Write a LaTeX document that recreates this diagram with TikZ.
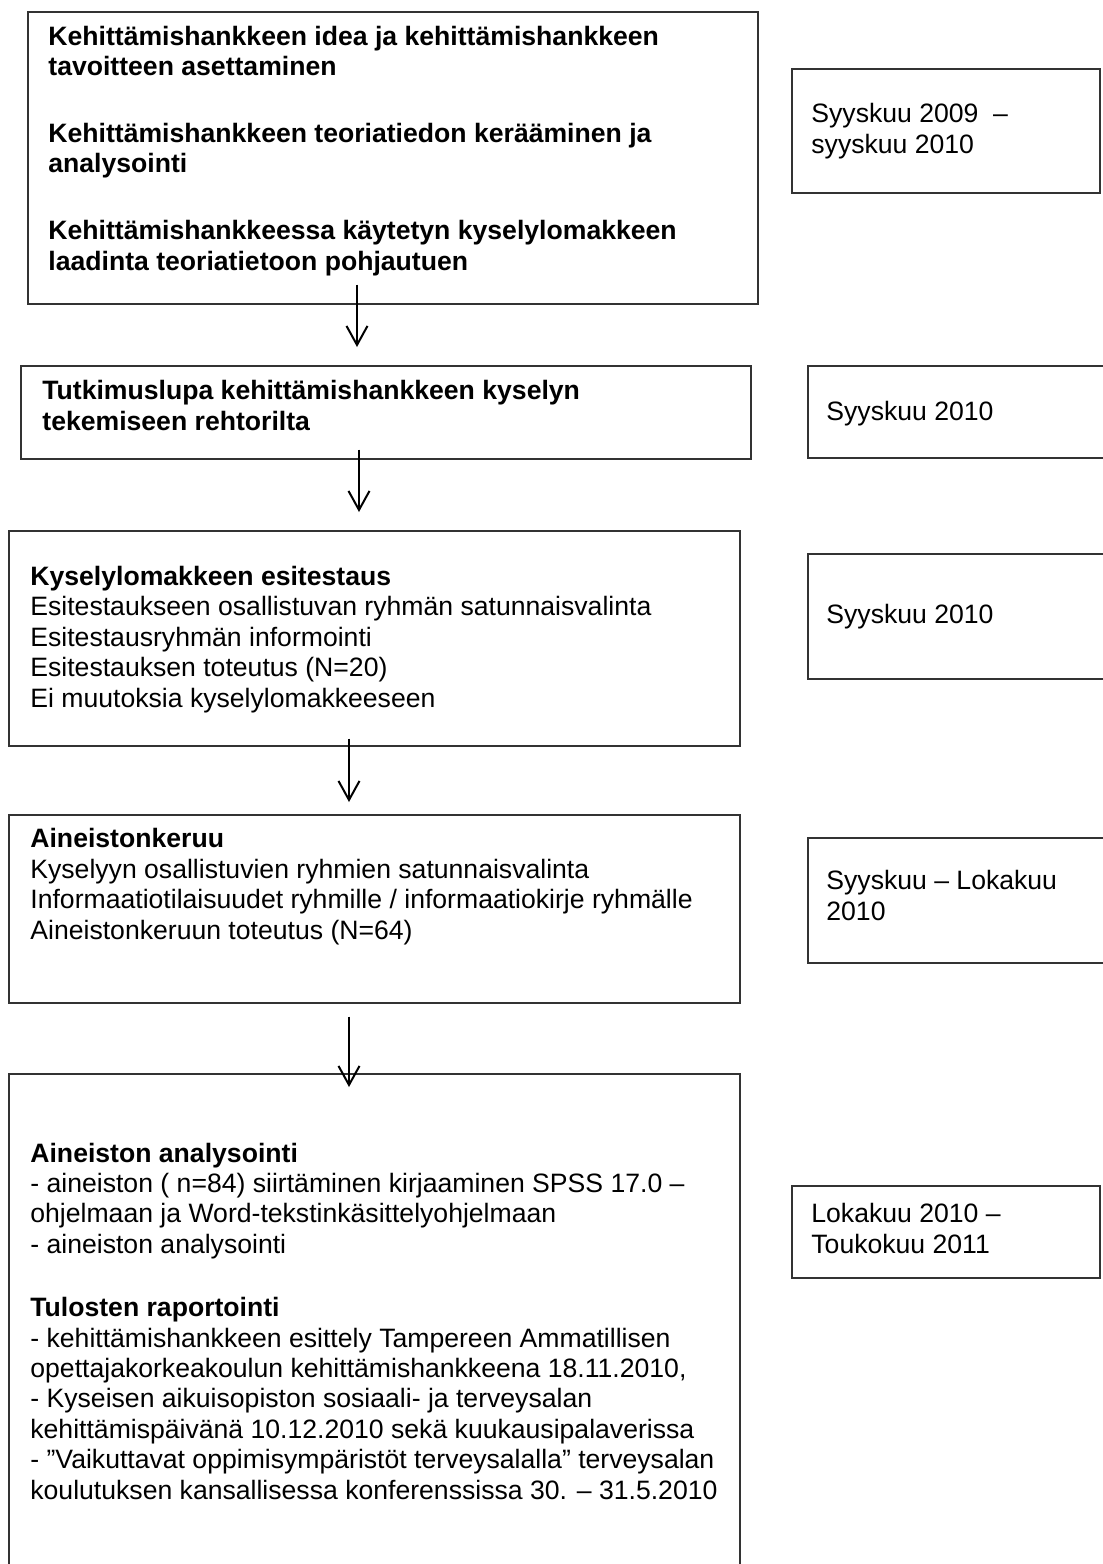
\documentclass[tikz,border=0pt]{standalone}
\usepackage{fontspec}
\setmainfont{Liberation Sans}
\usetikzlibrary{calc,arrows.meta}

\begin{document}
\begin{tikzpicture}[x=0.5pt,y=-0.5pt,
        box/.style={draw=black!80,line width=0.8pt,anchor=north west,inner sep=0pt},
        txt/.style={anchor=base west,align=left,inner sep=0pt,font=\fontsize{13.3pt}{15.2pt}\selectfont},
        arr/.style={-{Straight Barb[length=9.5pt,width=10.5pt]},line width=1pt}]
    \useasboundingbox (0,0) rectangle (1103,1564);
    \clip (0,0) rectangle (1103,1564);

    % left column
    \node[box,minimum width=365pt,minimum height=146pt] (b1) at (27,11) {};
    \node[box,minimum width=365pt,minimum height=46.5pt] (b2) at (20,365) {};
    \node[box,minimum width=365.5pt,minimum height=107.5pt] (b3) at (8,530) {};
    \node[box,minimum width=365.5pt,minimum height=94pt] (b4) at (8,814) {};
    \node[box,minimum width=365.5pt,minimum height=260pt] (b5) at (8,1073) {};

    % right column
    \node[box,minimum width=154pt,minimum height=62pt] (r1) at (791,68) {};
    \node[box,minimum width=160pt,minimum height=46pt] (r2) at (807,365) {};
    \node[box,minimum width=160pt,minimum height=62.5pt] (r3) at (807,553) {};
    \node[box,minimum width=160pt,minimum height=62.5pt] (r4) at (807,837) {};
    \node[box,minimum width=154pt,minimum height=46pt] (r5) at (791,1185) {};

    % base = last line
    \node[txt,font=\fontsize{13.3pt}{15.2pt}\selectfont\bfseries] (t1) at (48,270)
        {Kehittämishankkeen idea ja kehittämishankkeen\\
         tavoitteen asettaminen\\[18.25pt]
         Kehittämishankkeen teoriatiedon kerääminen ja\\
         analysointi\\[18.25pt]
         Kehittämishankkeessa käytetyn kyselylomakkeen\\
         laadinta teoriatietoon pohjautuen};
    \node[txt,font=\fontsize{13.3pt}{15.2pt}\selectfont\bfseries] (t2) at (42,430)
        {Tutkimuslupa kehittämishankkeen kyselyn\\
         tekemiseen rehtorilta};
    \node[txt] (t3) at (30,707)
        {\textbf{Kyselylomakkeen esitestaus}\\
         Esitestaukseen osallistuvan ryhmän satunnaisvalinta\\
         Esitestausryhmän informointi\\
         Esitestauksen toteutus (N=20)\\
         Ei muutoksia kyselylomakkeeseen};
    \node[txt] (t4) at (30,939)
        {\textbf{Aineistonkeruu}\\
         Kyselyyn osallistuvien ryhmien satunnaisvalinta\\
         Informaatiotilaisuudet ryhmille / informaatiokirje ryhmälle\\
         Aineistonkeruun toteutus (N=64)};
    \node[txt] (t5) at (30,1499)
        {\textbf{Aineiston analysointi}\\
         - aineiston ( n=84) siirtäminen kirjaaminen SPSS 17.0 --\\
         ohjelmaan ja Word-tekstinkäsittelyohjelmaan\\
         - aineiston analysointi\\[16.5pt]
         \textbf{Tulosten raportointi}\\
         - kehittämishankkeen esittely Tampereen Ammatillisen\\
         opettajakorkeakoulun kehittämishankkeena 18.11.2010,\\
         - Kyseisen aikuisopiston sosiaali- ja terveysalan\\
         kehittämispäivänä 10.12.2010 sekä kuukausipalaverissa\\
         - ”Vaikuttavat oppimisympäristöt terveysalalla” terveysalan\\
         koulutuksen kansallisessa konferenssissa 30. -- 31.5.2010};

    \node[txt] (d1) at (811,153) {Syyskuu 2009 \ --\\syyskuu 2010};
    \node[txt] (d2) at (826,420) {Syyskuu 2010};
    \node[txt] (d3) at (826,623) {Syyskuu 2010};
    \node[txt] (d4) at (826,920) {Syyskuu -- Lokakuu\\2010};
    \node[txt] (d5) at (811,1253) {Lokakuu 2010 --\\Toukokuu 2011};

    \draw[arr] ($(b1.south west)+(330,-20)$) -- ($(b2.north west)+(337,-18)$);
    \draw[arr] ($(b2.south west)+(339,-10)$) -- ($(b3.north west)+(351,-18)$);
    \draw[arr] ($(b3.south west)+(341,-8)$) -- ($(b4.north west)+(341,-12)$);
    \draw[arr] ($(b4.south west)+(341,13)$) -- ($(b5.north west)+(341,14)$);
\end{tikzpicture}
\end{document}
